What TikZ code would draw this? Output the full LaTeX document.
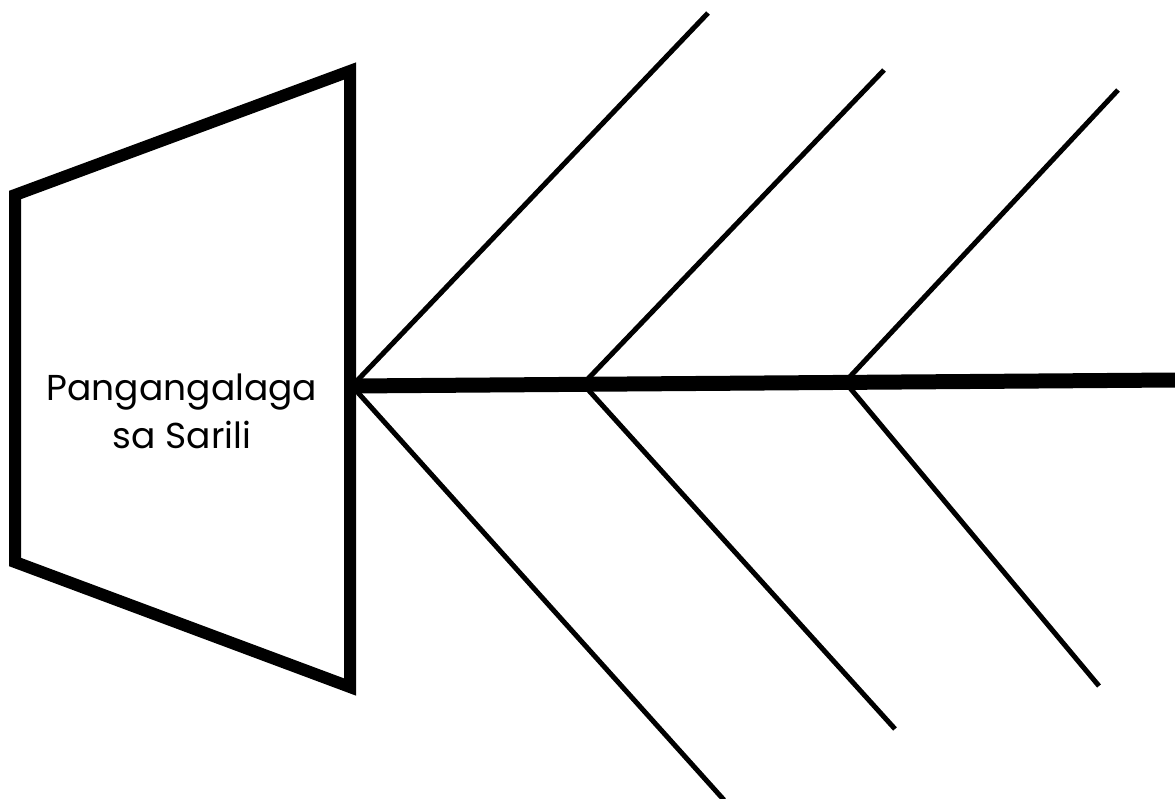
\documentclass[tikz,border=0pt]{standalone}
\usepackage{fontspec}
\setmainfont{Poppins}
\begin{document}
\begin{tikzpicture}[x=1pt,y=-1pt,
  head/.style={line width=12pt, line join=miter},
  spine/.style={line width=15pt},
  bone/.style={line width=5pt},
  label/.style={align=center, font=\fontsize{36}{48}\selectfont, inner sep=0pt}]
\useasboundingbox (0,0) rectangle (1175,798);
\coordinate (hTR) at (350,71);
\coordinate (hTL) at (15,195);
\coordinate (hBL) at (15,562);
\coordinate (hBR) at (350,687);
\draw[head] (hTR) -- (hTL) -- (hBL) -- (hBR) -- cycle;
\node[label, anchor=base] (txt) at (182,448) {Pangangalaga\\sa Sarili};
\coordinate (s0) at (352,386);
\coordinate (s1) at (583,384);
\coordinate (s2) at (845,382);
\coordinate (s3) at (1175,380);
\draw[spine] (s0) -- (s3);
\coordinate (u0) at (708,13);
\coordinate (u1) at (884,70);
\coordinate (u2) at (1118,90);
\coordinate (d0) at (724,800);
\coordinate (d1) at (895,729);
\coordinate (d2) at (1099,686);
\draw[bone] (s0) -- (u0);
\draw[bone] (s1) -- (u1);
\draw[bone] (s2) -- (u2);
\draw[bone] (s0) -- (d0);
\draw[bone] (s1) -- (d1);
\draw[bone] (s2) -- (d2);
\end{tikzpicture}
\end{document}
